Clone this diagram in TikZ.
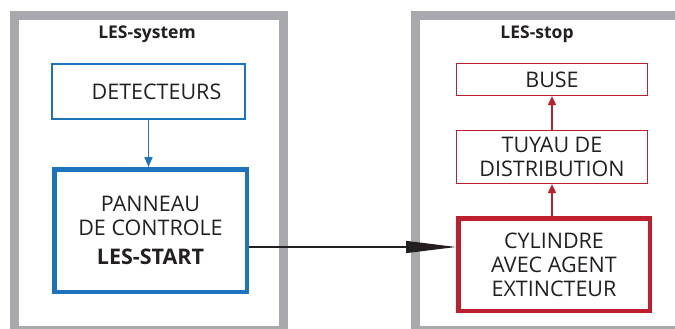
\documentclass[tikz,border=0pt]{standalone}
\usepackage{fontspec}
\setmainfont{Open Sans}
\usetikzlibrary{arrows.meta}
\definecolor{framegray}{HTML}{A7A9AC}
\definecolor{lesblue}{HTML}{1C75BC}
\definecolor{lesred}{HTML}{BE1E2D}
\definecolor{textdark}{HTML}{231F20}
\def\boxfont{\fontsize{21.5}{24}\selectfont}
\begin{document}
\begin{tikzpicture}[x=1pt,y=1pt,text=textdark]
        \tikzstyle{frame}=[draw=framegray,line width=9pt]
        \tikzstyle{title}=[font=\fontsize{17.5}{20}\selectfont\bfseries]
        \tikzstyle{unit}=[rectangle,align=center,inner sep=0pt,font=\boxfont]
        \tikzstyle{blue unit}=[unit,draw=lesblue,line width=1.2pt]
        \tikzstyle{main blue unit}=[unit,draw=lesblue,line width=4.5pt]
        \tikzstyle{red unit}=[unit,draw=lesred,line width=1.2pt]
        \tikzstyle{main red unit}=[unit,draw=lesred,line width=4.5pt]
        \tikzstyle{blue flow}=[draw=lesblue,line width=1.8pt,-{Triangle[length=10pt,width=8pt]}]
        \tikzstyle{red flow}=[draw=lesred,line width=1.6pt,-{Triangle[length=9pt,width=8pt]}]
        \tikzstyle{link}=[draw=textdark,line width=1.2pt,-{Triangle[length=50pt,width=12pt]}]

        \useasboundingbox (0,0) rectangle (675,-329);
        \clip (0,0) rectangle (675,-329);

        % Draw the two system frames
        \draw[frame] (14.5,-15.5) rectangle (283.5,-330.5);
        \draw[frame] (415.5,-15.5) rectangle (690,-330.5);
        \node[title] (sys) at (147,-34) {LES-system};
        \node[title] (stop) at (537,-34) {LES-stop};

        % Draw the detection side
        \node[blue unit, minimum width=193pt, minimum height=55pt] (det) at (148.5,-91.5) {\hspace*{16pt}DETECTEURS};
        \node[main blue unit, minimum width=192.5pt, minimum height=122.5pt] (panneau) at (150.5,-230.5)
            {PANNEAU\\DE CONTROLE\\[5pt]\textbf{LES-START}};

        % Draw the extinguishing side
        \node[red unit, minimum width=191pt, minimum height=32pt] (buse) at (552,-79.5) {BUSE};
        \node[red unit, minimum width=191pt, minimum height=53pt] (tuyau) at (552,-157) {TUYAU DE\\DISTRIBUTION};
        \node[main red unit, minimum width=191.5pt, minimum height=92.5pt] (cyl) at (554,-264.5)
            {CYLINDRE\\AVEC AGENT\\EXTINCTEUR};

        % Connect the units
        \draw[blue flow] (det.south) -- (det.south |- panneau.north);
        \draw[red flow] (cyl.north -| tuyau.south) -- (tuyau.south);
        \draw[red flow] (tuyau.north) -- (buse.south);
        \coordinate (out) at ([yshift=-16.5pt]panneau.east);
        \draw[link] (out) -- (out -| cyl.west);
    \end{tikzpicture}
\end{document}
